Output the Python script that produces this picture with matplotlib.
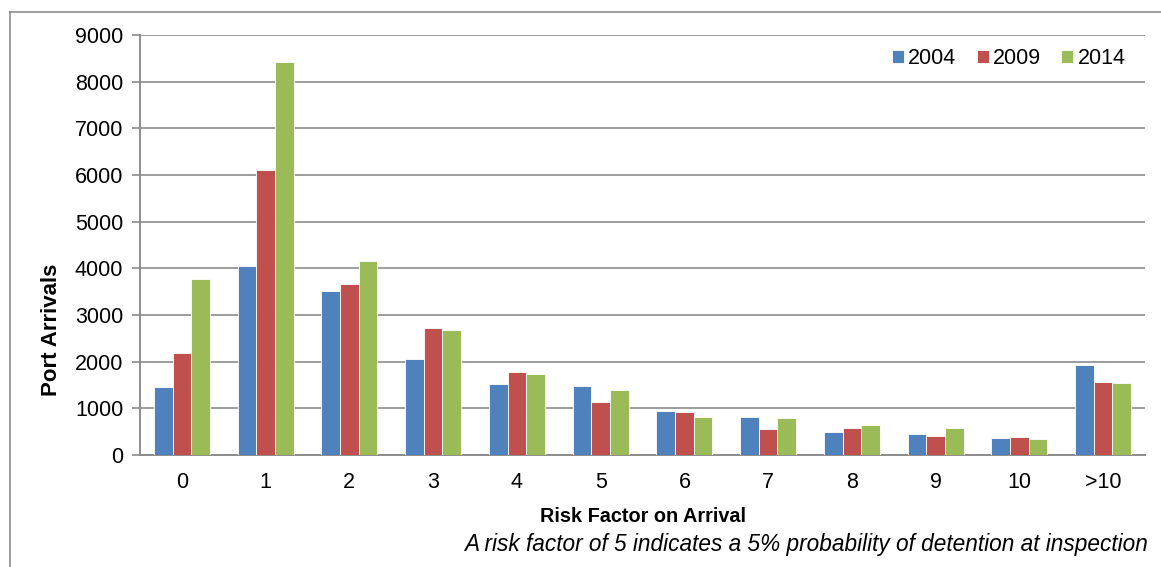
import matplotlib
matplotlib.use('Agg')

import matplotlib.pyplot as plt
from matplotlib.lines import Line2D
import numpy as np

plt.rcParams['font.family'] = ['Liberation Sans', 'DejaVu Sans']

# risk factor categories and port arrivals per year
categories = ['0', '1', '2', '3', '4', '5', '6', '7', '8', '9', '10', '>10']
years = ['2004', '2009', '2014']
arrivals_2004 = [1450, 4050, 3510, 2050, 1520, 1475, 945, 820, 490, 440, 365, 1935]
arrivals_2009 = [2185, 6110, 3675, 2715, 1770, 1135, 912, 567, 572, 398, 376, 1575]
arrivals_2014 = [3762, 8430, 4157, 2670, 1735, 1400, 807, 787, 646, 575, 333, 1540]
colors = ['#4F81BD', '#C0504D', '#9BBB59']

series = [arrivals_2004, arrivals_2009, arrivals_2014]

fig = plt.figure(figsize=(11.61, 5.67), dpi=100)
ax = fig.add_axes([140 / 1161, 1 - 455 / 567, 1005 / 1161, 420 / 567])

x = np.arange(len(categories))
w = 0.222
for i, (vals, col, yr) in enumerate(zip(series, colors, years)):
    ax.bar(x + (i - 1) * w, vals, width=w, color=col, edgecolor='white',
           linewidth=0.6, label=yr, zorder=3)

ax.set_xlim(-0.5, len(categories) - 0.5)
ax.set_ylim(0, 9000)
ax.set_yticks(range(0, 9001, 1000))
ax.set_xticks(x)
ax.set_xticklabels(categories)
ax.yaxis.grid(True, color='#8c8c8c', linewidth=1.2, zorder=0)
ax.tick_params(axis='y', length=6, width=1.2, color='#8c8c8c', labelsize=15.5, pad=6)
ax.tick_params(axis='x', length=0, labelsize=15.5, pad=12)
for s in ['top', 'right']:
    ax.spines[s].set_visible(False)
for s in ['left', 'bottom']:
    ax.spines[s].set_color('#8c8c8c')
    ax.spines[s].set_linewidth(1.4)

ax.set_ylabel('Port Arrivals', fontsize=16, fontweight='bold')
ax.yaxis.set_label_coords(-78 / 1005, 0.298)
ax.set_xlabel('Risk Factor on Arrival', fontsize=14.3, fontweight='bold')
ax.xaxis.set_label_coords(0.5, -52 / 420)

ax.legend(loc='upper right', bbox_to_anchor=(1.0, 1.015), ncol=3, frameon=False,
          fontsize=15.5, handlelength=0.55, handleheight=0.55, handletextpad=0.2,
          columnspacing=0.95)

fig.text(1148 / 1161, 1 - 545 / 567,
         'A risk factor of 5 indicates a 5% probability of detention at inspection',
         ha='right', va='center', fontsize=16.3, style='italic')

# outer chart border
fig.add_artist(Line2D([10 / 1161, 1], [1 - 12 / 567, 1 - 12 / 567],
                      transform=fig.transFigure, color='#8c8c8c', linewidth=1.2))
fig.add_artist(Line2D([10 / 1161, 10 / 1161], [0, 1 - 12 / 567],
                      transform=fig.transFigure, color='#8c8c8c', linewidth=1.2))

fig.savefig('out.png', dpi=100)
plt.close(fig)
